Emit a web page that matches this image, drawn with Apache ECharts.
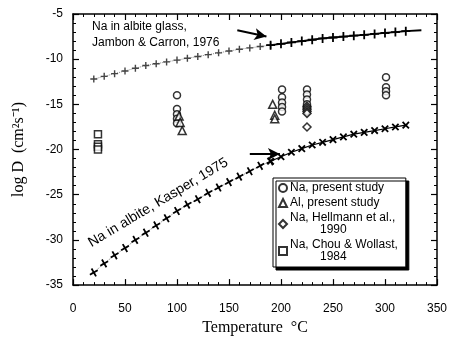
<!DOCTYPE html>
<html>
<head>
<meta charset="utf-8">
<script src="https://cdn.jsdelivr.net/npm/echarts@6/dist/echarts.min.js"></script>
<style>
  html, body { margin: 0; padding: 0; background: #fff; }
  #chart { width: 450px; height: 341px; }
</style>
</head>
<body>
<div id="chart"></div>
<script>
// curve temperatures (°C)
const curveTemps = [20, 30, 40, 50, 60, 70, 80, 90, 100, 110, 120, 130, 140, 150, 160,
  170, 180, 190, 200, 210, 220, 230, 240, 250, 260, 270, 280, 290, 300, 310, 320]
// Na in albite glass, Jambon & Carron 1976
const jambonLogD = [-12.2, -11.9, -11.6, -11.3, -11.0, -10.7, -10.5, -10.3, -10.1, -9.9,
  -9.7, -9.5, -9.3, -9.1, -8.9, -8.75, -8.6, -8.45, -8.3, -8.15, -8.0, -7.85, -7.7,
  -7.6, -7.5, -7.4, -7.3, -7.2, -7.1, -7.0, -6.9]
const jambonEnd = [335, -6.8]
// Na in albite, Kasper 1975
const kasperLogD = [-33.6, -32.6, -31.7, -30.9, -30.0, -29.2, -28.4, -27.6, -26.8, -26.1,
  -25.5, -24.8, -24.2, -23.6, -23.0, -22.4, -21.8, -21.3, -20.8, -20.3, -19.9, -19.5,
  -19.2, -18.9, -18.6, -18.3, -18.1, -17.9, -17.7, -17.5, -17.3]
const splitTemp = 190

const naPresent = [[100, -14.0], [100, -15.5], [100, -16.1], [100, -16.6], [100, -17.1],
  [201, -13.35], [201, -14.2], [201, -14.8], [201, -15.3], [201, -15.8],
  [225, -13.35], [225, -13.9], [225, -14.45], [225, -15.0],
  [301, -12.0], [301, -13.1], [301, -13.55], [301, -14.0]]
const alPresent = [[102, -16.3], [103, -17.0], [105, -17.9],
  [192, -15.0], [194, -16.2], [194, -16.6]]
const naHellmann = [[225, -15.2], [225, -15.4], [225, -15.6], [225, -15.8], [225, -16.0],
  [225, -17.5]]
const naChou = [[24, -18.3], [24, -19.4], [24, -19.7], [24, -20.0]]

const xRange = { min: 0, max: 350 }
const yRange = { min: -35, max: -5 }
const xMajor = 50, xMinor = 10
const yMajor = 5, yMinor = 1

const splitIdx = curveTemps.indexOf(splitTemp)
const pairs = (ys) => curveTemps.map((t, i) => [t, ys[i]])
const jambonPts = pairs(jambonLogD)
const kasperPts = pairs(kasperLogD)

const plusPath = 'path://M4,0H6V4H10V6H6V10H4V6H0V4H4Z'
const sans = 'Liberation Sans'
const serif = 'Liberation Serif'

const pointStyle = { color: '#fff', borderColor: '#000', borderWidth: 1.5 }

const chart = echarts.init(document.getElementById('chart'))

// major-tick axis with frame line
function majorAxis(extra) {
  return Object.assign({
    type: 'value', offset: 0,
    axisLine: { show: true, onZero: false, lineStyle: { color: '#000', width: 1.5 } },
    axisTick: { show: true, inside: true, length: 6, lineStyle: { color: '#000', width: 1.2 } },
    splitLine: { show: false }
  }, extra)
}
// minor-tick only axis
function minorAxis(extra) {
  return Object.assign({
    type: 'value', offset: 0,
    axisLine: { show: true, onZero: false, lineStyle: { color: 'rgba(0,0,0,0)', width: 1 } },
    axisTick: { show: true, inside: true, length: 3, lineStyle: { color: '#000', width: 1 } },
    axisLabel: { show: false },
    splitLine: { show: false }
  }, extra)
}

chart.setOption({
  animation: false,
  grid: { left: 73, right: 13, top: 14, bottom: 54 },
  xAxis: [
    majorAxis({
      position: 'bottom', ...xRange, interval: xMajor,
      name: 'Temperature  °C', nameLocation: 'middle', nameGap: 34,
      nameTextStyle: { fontFamily: serif, fontSize: 16, color: '#000' },
      axisLabel: { margin: 18, fontFamily: sans, fontSize: 12, color: '#000' }
    }),
    majorAxis({ position: 'top', ...xRange, interval: xMajor, axisLabel: { show: false } }),
    minorAxis({ position: 'bottom', ...xRange, interval: xMinor }),
    minorAxis({ position: 'top', ...xRange, interval: xMinor })
  ],
  yAxis: [
    majorAxis({
      position: 'left', ...yRange, interval: yMajor,
      name: 'log D  (cm²s⁻¹)', nameLocation: 'middle', nameGap: 46,
      nameTextStyle: { fontFamily: serif, fontSize: 16, color: '#000' },
      axisLabel: { margin: 10, fontFamily: sans, fontSize: 12, color: '#000' }
    }),
    majorAxis({ position: 'right', ...yRange, interval: yMajor, axisLabel: { show: false } }),
    minorAxis({ position: 'left', ...yRange, interval: yMinor }),
    minorAxis({ position: 'right', ...yRange, interval: yMinor })
  ],
  legend: {
    data: ['Na, present study', 'Al, present study', 'Na, Hellmann et al.,', 'Na, Chou & Wollast,'],
    orient: 'vertical',
    left: 273, top: 178,
    width: 137,
    padding: [4, 8, 4, 5],
    itemGap: 3,
    itemWidth: 8, itemHeight: 8,
    backgroundColor: '#fff',
    borderColor: '#000', borderWidth: 1,
    shadowColor: '#000', shadowBlur: 0, shadowOffsetX: 3, shadowOffsetY: 3,
    textStyle: { fontFamily: sans, fontSize: 12, color: '#000', padding: [0, 0, 0, -2] },
    formatter: (name) => {
      if (name === 'Na, Hellmann et al.,') return name + '\n         1990'
      if (name === 'Na, Chou & Wollast,') return name + '\n         1984'
      return name
    }
  },
  graphic: [
    {
      type: 'text', left: 92, top: 19,
      style: {
        text: 'Na in albite glass,\nJambon & Carron, 1976',
        font: '12px "Liberation Sans"', fill: '#000', lineHeight: 16
      }
    },
    {
      type: 'text', x: 93, y: 250, rotation: 31 * Math.PI / 180,
      style: {
        text: 'Na in albite, Kasper, 1975',
        font: '14px "Liberation Sans"', fill: '#000',
        textAlign: 'left', textVerticalAlign: 'bottom'
      }
    }
  ],
  series: [
    {
      type: 'line', data: jambonPts.slice(0, splitIdx + 1),
      symbol: plusPath, symbolSize: 7,
      itemStyle: { color: '#444' },
      lineStyle: { color: '#888', width: 1, type: 'dotted' },
      z: 3
    },
    {
      type: 'line',
      data: jambonPts.slice(splitIdx).concat([{ value: jambonEnd, symbol: 'none' }]),
      symbol: plusPath, symbolSize: 9,
      itemStyle: { color: '#000' },
      lineStyle: { color: '#000', width: 1.8 },
      markLine: {
        silent: true, symbol: ['none', 'arrow'], symbolSize: [9, 12],
        label: { show: false },
        lineStyle: { color: '#000', width: 2, type: 'solid' },
        data: [[{ coord: [158, -6.8] }, { coord: [186, -7.5] }]]
      },
      z: 3
    },
    {
      type: 'line', data: kasperPts.slice(0, splitIdx + 1),
      symbol: plusPath, symbolSize: 9, symbolRotate: 30,
      itemStyle: { color: '#000' },
      lineStyle: { color: '#888', width: 1, type: 'dotted' },
      z: 3
    },
    {
      type: 'line', data: kasperPts.slice(splitIdx),
      symbol: plusPath, symbolSize: 9, symbolRotate: 45,
      itemStyle: { color: '#000' },
      lineStyle: { color: '#000', width: 1.2 },
      markLine: {
        silent: true, symbol: ['none', 'arrow'], symbolSize: [9, 12],
        label: { show: false },
        lineStyle: { color: '#000', width: 2, type: 'solid' },
        data: [[{ coord: [170, -20.5] }, { coord: [199, -20.5] }]]
      },
      z: 3
    },
    { name: 'Na, present study', type: 'scatter', data: naPresent,
      symbol: 'circle', symbolSize: 7, itemStyle: pointStyle, z: 4 },
    { name: 'Al, present study', type: 'scatter', data: alPresent,
      symbol: 'triangle', symbolSize: 8, itemStyle: pointStyle, z: 4 },
    { name: 'Na, Hellmann et al.,', type: 'scatter', data: naHellmann,
      symbol: 'diamond', symbolSize: 8, itemStyle: pointStyle, z: 4 },
    { name: 'Na, Chou & Wollast,', type: 'scatter', data: naChou,
      symbol: 'rect', symbolSize: 7, itemStyle: pointStyle, z: 4 }
  ]
})
</script>
</body>
</html>
